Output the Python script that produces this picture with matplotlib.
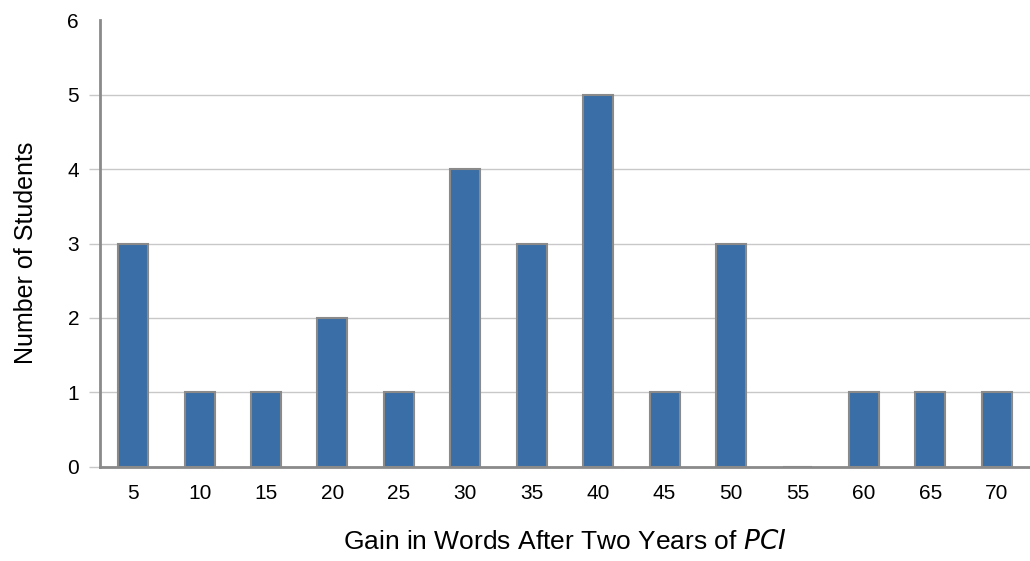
import matplotlib
matplotlib.use("Agg")
import matplotlib.pyplot as plt

plt.rcParams['font.family'] = ['Liberation Sans', 'DejaVu Sans']

gains = ["5", "10", "15", "20", "25", "30", "35", "40", "45", "50", "55", "60", "65", "70"]
students = [3, 1, 1, 2, 1, 4, 3, 5, 1, 3, 0, 1, 1, 1]

fig = plt.figure(figsize=(10.3, 5.61), dpi=100)
ax = fig.add_axes([0.097, 0.1676, 0.903, 0.7967])

x = list(range(len(gains)))
ax.bar(x, students, width=0.45, color="#3a6ea6", edgecolor="#8a8a8a",
       linewidth=1.5, zorder=3)

ax.set_xlim(-0.5, len(gains) - 0.5)
ax.set_ylim(0, 6)
ax.set_yticks(range(0, 7))
ax.set_xticks(x)
ax.set_xticklabels(gains)

ax.yaxis.grid(True, color="#c8c8c8", linewidth=1.0, zorder=0)
ax.set_axisbelow(True)

for side in ("top", "right"):
    ax.spines[side].set_visible(False)
for side in ("left", "bottom"):
    ax.spines[side].set_color("#8a8a8a")
    ax.spines[side].set_linewidth(2)

ax.tick_params(axis="y", length=8, width=1, color="#c8c8c8", labelsize=15, pad=7)
ax.tick_params(axis="x", length=0, labelsize=15, pad=12)

# no gridline or tick at the top of the scale
ax.yaxis.get_gridlines()[-1].set_visible(False)
ax.yaxis.get_major_ticks()[-1].tick1line.set_visible(False)

ax.set_ylabel("Number of Students", fontsize=18)
ax.yaxis.set_label_coords(-0.067, 0.48)
ax.set_xlabel("Gain in Words After Two Years of $\\it{PCI}$", fontsize=19, labelpad=20)

fig.savefig("out.png", dpi=100)
